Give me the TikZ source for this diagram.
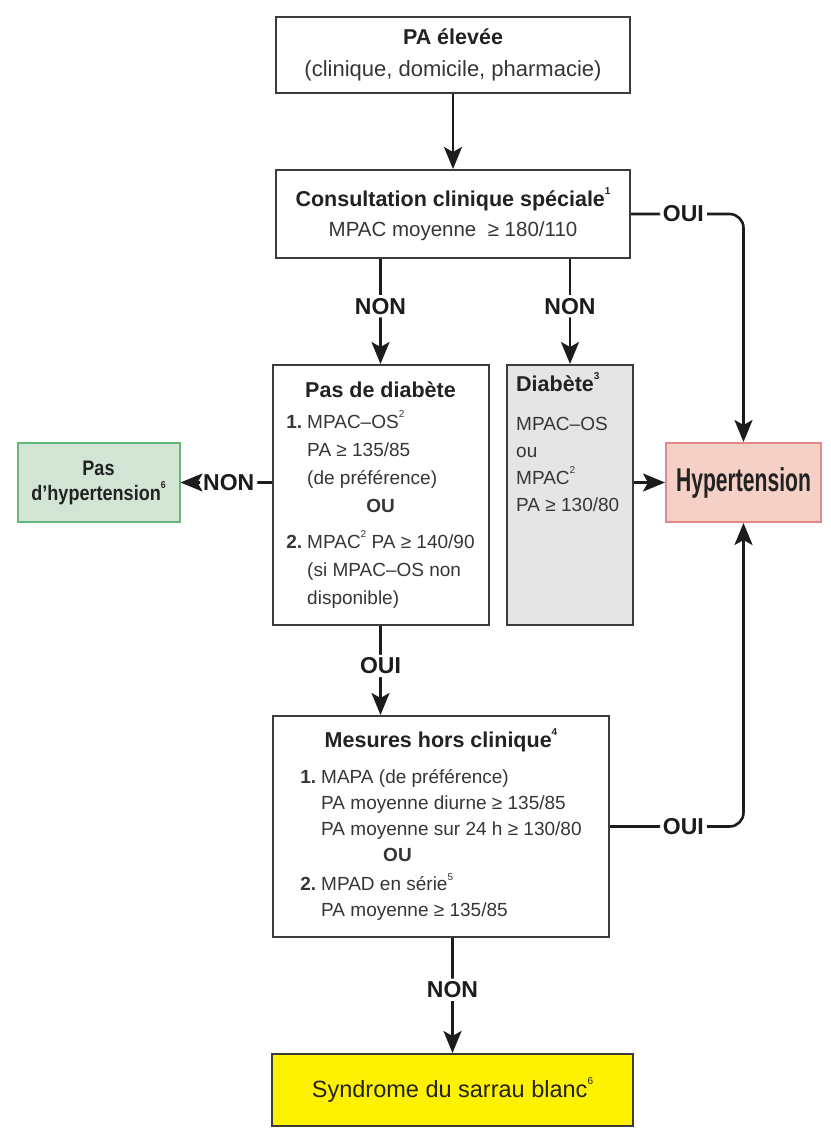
\documentclass[tikz,border=0pt]{standalone}
\usepackage{fontspec}
\setmainfont{Liberation Sans}
\newfontfamily\condfont[FakeStretch=0.64]{Liberation Sans}
\newfontfamily\narrowfont[FakeStretch=0.86]{Liberation Sans}
\usepackage{xcolor}
\usepackage{tikz}
\usetikzlibrary{shapes,arrows.meta}
\definecolor{boxgray}{HTML}{3C3C3C}
\definecolor{linegray}{HTML}{1C1C1C}
\definecolor{txtgray}{HTML}{363636}
\definecolor{titlegray}{HTML}{222222}
\definecolor{diabgray}{HTML}{E5E5E5}
\definecolor{hypfill}{HTML}{F4D0C7}
\definecolor{hypred}{HTML}{E08A8A}
\definecolor{nohypfill}{HTML}{D2E5D5}
\definecolor{nohypgreen}{HTML}{62B878}
\definecolor{syndyellow}{HTML}{FFF200}
\newcommand{\boxtitle}[1]{{\fontsize{21.5}{26}\selectfont\bfseries\color{titlegray}#1}}
\newcommand{\fnote}[1]{\raisebox{0.55em}{\fontsize{10}{10}\selectfont #1}}
\tikzstyle{block} = [rectangle, draw=boxgray, line width=2pt, fill=white, inner sep=0pt, text=txtgray, font=\fontsize{19}{26}\selectfont]
\tikzstyle{txt} = [inner sep=0pt, anchor=north west, text=txtgray, font=\fontsize{19}{27}\selectfont]
\tikzstyle{line} = [draw=linegray, line width=2.6pt, rounded corners=14pt, -{Stealth[length=22pt, width=18pt, inset=5pt]}]
\tikzstyle{answer} = [fill=white, inner sep=3pt, text=linegray, font=\fontsize{23}{23}\selectfont\bfseries]

\begin{document}
\begin{tikzpicture}[node distance=150pt]
    \useasboundingbox (0,0) rectangle (830pt,-1142pt);
    \node [block, minimum width=354pt, minimum height=76pt, align=center] (elevee) at (453pt,-55pt)
        {\boxtitle{PA élevée}\\[6pt]{\fontsize{22}{26}\selectfont(clinique, domicile, pharmacie)}};
    \node [block, below of=elevee, node distance=159pt, minimum width=354pt, minimum height=88pt, align=center] (consult)
        {\boxtitle{Consultation clinique spéciale\fnote{1}}\\[4pt]{\fontsize{20.5}{26}\selectfont MPAC moyenne~ ≥ 180/110}};
    \node [block, below of=consult, node distance=281pt, xshift=-72.5pt, minimum width=216pt, minimum height=260pt, font=\fontsize{19}{28}\selectfont] (nodiab)
        {\begin{tabular}{@{}l@{\hspace{5pt}}l@{}}
        \multicolumn{2}{c}{\boxtitle{Pas de diabète}}\\[3pt]
        \textbf{1.} & MPAC–OS\fnote{2}\\
        & PA ≥ 135/85\\
        & (de préférence)\\
        \multicolumn{2}{c}{\textbf{OU}}\\[8pt]
        \textbf{2.} & MPAC\fnote{2} PA ≥ 140/90\\
        & (si MPAC–OS non\\
        & disponible)
        \end{tabular}};
    \node [block, right of=nodiab, node distance=189.5pt, minimum width=126pt, minimum height=260pt, fill=diabgray] (diab) {};
    \node [txt] (diabtext) at ([xshift=10pt, yshift=-8pt]diab.north west)
        {\begin{tabular}{@{}l@{}}
        \boxtitle{Diabète\fnote{3}}\\[12pt]
        MPAC–OS\\
        ou\\
        MPAC\fnote{2}\\
        PA ≥ 130/80
        \end{tabular}};
    \node [block, right of=diab, node distance=173.5pt, yshift=12.5pt, minimum width=155pt, minimum height=79pt, draw=hypred, fill=hypfill, text=titlegray, font=\fontsize{33}{33}\condfont\bfseries] (hyp)
        {Hypertension};
    \node [block, left of=nodiab, node distance=282pt, yshift=12.5pt, minimum width=162pt, minimum height=79pt, draw=nohypgreen, fill=nohypfill, align=center, text=titlegray, font=\fontsize{21}{25}\narrowfont\bfseries] (nohyp)
        {Pas\\d’hypertension\fnote{6}};
    \node [block, below of=nodiab, node distance=331.5pt, xshift=60.5pt, minimum width=336pt, minimum height=221pt] (mesures)
        {\begin{tabular}{@{}l@{\hspace{5pt}}l@{}}
        \multicolumn{2}{c}{\boxtitle{Mesures hors clinique\fnote{4}}}\\[10pt]
        \textbf{1.} & MAPA (de préférence)\\
        & PA moyenne diurne ≥ 135/85\\
        & PA moyenne sur 24 h ≥ 130/80\\
        & \hspace{62pt}\textbf{OU}\\[3pt]
        \textbf{2.} & MPAD en série\fnote{5}\\
        & PA moyenne ≥ 135/85
        \end{tabular}};
    \node [block, below of=mesures, node distance=263.5pt, xshift=11.5pt, minimum width=361pt, minimum height=72pt, fill=syndyellow, text=titlegray, font=\fontsize{23.5}{26}\selectfont] (synd)
        {Syndrome du sarrau blanc\fnote{6}};

    \path [line] (elevee) -- (consult);
    \path [line] (consult.south -| nodiab) -- node [answer, pos=0.45] {NON} (nodiab);
    \path [line] (consult.south -| diab) -- node [answer, pos=0.45] {NON} (diab);
    \path [line] (consult.east) -| node [answer, pos=0.233] {OUI} (hyp);
    \path [line] (nodiab.south) -- node [answer, pos=0.45] {OUI} (nodiab.south |- mesures.north);
    \path [line] (nodiab.west |- nohyp) -- node [answer, pos=0.47] {NON} (nohyp);
    \path [line] (diab.east |- hyp) -- (hyp);
    \path [line] (mesures.east) -| node [answer, pos=0.275] {OUI} (hyp);
    \path [line] (synd.north |- mesures.south) -- node [answer, pos=0.45] {NON} (synd);
\end{tikzpicture}
\end{document}
